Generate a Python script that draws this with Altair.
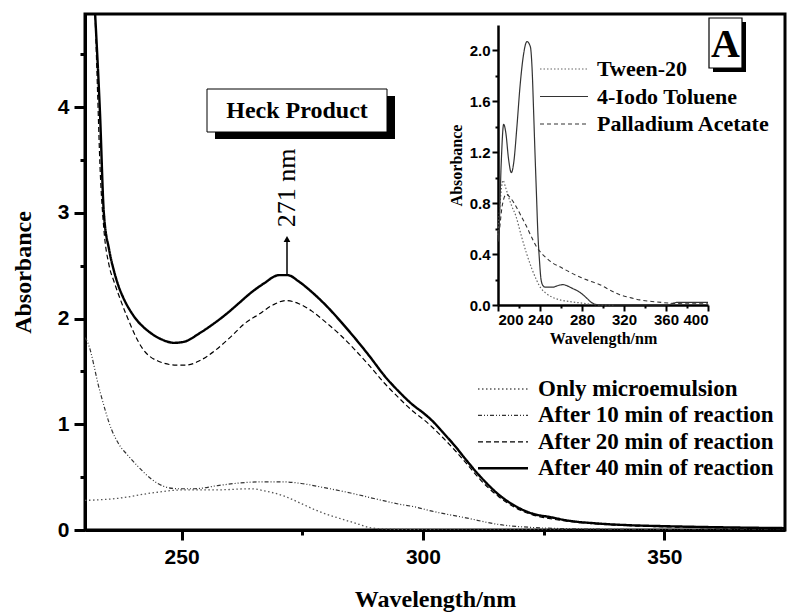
import altair as alt
import pandas as pd

# ---------------- Main spectra (wavelength nm, absorbance) ----------------
micro_wl = [230, 236.9, 243.8, 250.7, 257.5, 264.4, 267.2, 271.3, 274.8, 278.2, 282.3, 286.5, 289.2, 292, 300, 315, 330]
micro_ab = [0.28, 0.30, 0.35, 0.38, 0.38, 0.39, 0.37, 0.32, 0.25, 0.18, 0.116, 0.058, 0.02, 0.01, 0.003, 0.0, 0.0]

min10_wl = [230, 230.5, 233.1, 235.5, 236.9, 239, 241, 243.8, 246.5, 249.3, 252.7, 257.5, 261, 266.5, 271.3, 274.8,
            279.6, 285, 290.6, 295, 298.2, 301.9, 308.9, 315.7, 322.6, 330, 340, 350, 375]
min10_ab = [1.82, 1.78, 1.31, 0.95, 0.82, 0.70, 0.60, 0.48, 0.41, 0.39, 0.39, 0.42, 0.44, 0.455, 0.455, 0.44,
            0.40, 0.35, 0.29, 0.245, 0.22, 0.178, 0.115, 0.052, 0.024, 0.012, 0.006, 0.003, 0.0]

min20_wl = [231.6, 232.1, 232.6, 233.1, 233.9, 235, 236, 237, 238.6, 242, 245, 248.9, 251, 253.7, 257, 260.5, 263,
            266, 269, 271.6, 274.3, 277, 280, 283, 286, 289, 292, 295, 298, 300, 302, 304, 306.9, 309, 312, 315.7,
            319.2, 322.6, 326, 329.5, 336.4, 343, 350, 360, 375]
min20_ab = [5.4, 4.85, 4.15, 3.45, 2.85, 2.5, 2.35, 2.22, 2.03, 1.71, 1.6, 1.56, 1.56, 1.6, 1.7, 1.84, 1.95,
            2.04, 2.13, 2.17, 2.14, 2.07, 1.96, 1.84, 1.70, 1.55, 1.39, 1.25, 1.12, 1.05, 0.97, 0.88, 0.74, 0.63,
            0.47, 0.315, 0.21, 0.145, 0.11, 0.085, 0.055, 0.04, 0.03, 0.022, 0.015]

min40_wl = [231.5, 232.1, 233.1, 233.9, 235, 236, 237, 237.9, 240, 243.4, 246, 248.5, 250.5, 253.7, 256, 259.2, 262,
            264, 267, 270.2, 272, 274.3, 277, 280, 283, 286, 289, 292, 295, 298, 300, 302, 304, 306.9, 309,
            312, 315.7, 319.2, 322.6, 326.6, 329.5, 336.4, 343, 350.2, 360, 370.8, 375]
min40_ab = [5.4, 4.88, 3.95, 3.0, 2.65, 2.45, 2.3, 2.2, 2.03, 1.87, 1.8, 1.77, 1.78, 1.86, 1.93, 2.04, 2.15,
            2.23, 2.33, 2.41, 2.41, 2.35, 2.25, 2.12, 1.97, 1.81, 1.64, 1.46, 1.31, 1.18, 1.11, 1.03, 0.93, 0.78, 0.66,
            0.50, 0.335, 0.225, 0.156, 0.12, 0.093, 0.061, 0.045, 0.036, 0.027, 0.02, 0.018]

# ---------------- Inset spectra ----------------
tween_wl = [200, 202, 204.8, 207, 210, 213, 217, 222, 227, 232, 236.5, 241, 246, 252, 259, 270, 280, 290, 300, 310]
tween_ab = [0.55, 0.8, 0.98, 0.93, 0.85, 0.78, 0.70, 0.55, 0.41, 0.29, 0.2, 0.13, 0.09, 0.06, 0.04, 0.025, 0.015,
            0.005, 0.0, 0.0]

iodo_wl = [200, 201, 203, 205.4, 207.5, 210, 212.7, 215, 218, 221, 224, 227.6, 230.8, 232.5, 234, 235, 236.5, 238,
           239.5, 241, 243, 245, 252, 258, 262, 266, 271, 276, 281, 285, 289, 293, 300, 360, 366, 370, 400]
iodo_ab = [0.5, 0.59, 1.1, 1.42, 1.35, 1.15, 1.04, 1.12, 1.4, 1.72, 1.95, 2.07, 2.03, 1.85, 1.5, 1.25, 0.9, 0.56,
           0.35, 0.2, 0.15, 0.14, 0.14, 0.155, 0.16, 0.15, 0.13, 0.11, 0.08, 0.05, 0.02, 0.005, 0.0, 0.0, 0.01,
           0.02, 0.02]

pd_wl = [200, 201, 204, 208, 212, 217.5, 222, 227, 231, 236.5, 241, 246, 252, 259, 268, 278, 287, 297, 306, 316,
         325, 335, 350, 367, 380, 400]
pd_ab = [0.5, 0.56, 0.78, 0.87, 0.84, 0.77, 0.70, 0.62, 0.55, 0.46, 0.41, 0.37, 0.33, 0.30, 0.26, 0.22, 0.19,
         0.16, 0.12, 0.08, 0.06, 0.04, 0.025, 0.013, 0.01, 0.01]

main_names = ["Only microemulsion", "After 10 min of reaction", "After 20 min of reaction",
              "After 40 min of reaction"]
main_wls = [micro_wl, min10_wl, min20_wl, min40_wl]
main_abs = [micro_ab, min10_ab, min20_ab, min40_ab]
main_colors = ["#555555", "#333333", "#000000", "#000000"]
main_dashes = [[1.5, 2.5], [4, 2, 1, 2, 1, 2], [5, 3], [1, 0]]
main_widths = [1.3, 1.2, 1.2, 2.4]

inset_names = ["Tween-20", "4-Iodo Toluene", "Palladium Acetate"]
inset_wls = [tween_wl, iodo_wl, pd_wl]
inset_abs = [tween_ab, iodo_ab, pd_ab]
inset_colors = ["#666666", "#333333", "#333333"]
inset_dashes = [[1.5, 2], [1, 0], [4, 3]]
inset_widths = [1.2, 1.2, 1.1]

main_x_ticks = [250, 275, 300, 325, 350]
main_y_ticks = [0, 0.5, 1, 1.5, 2, 2.5, 3, 3.5, 4, 4.5]
inset_x_ticks = [200, 220, 240, 260, 280, 300, 320, 340, 360, 380, 400]
inset_y_ticks = [0, 0.2, 0.4, 0.6, 0.8, 1.0, 1.2, 1.4, 1.6, 1.8, 2.0]

SERIF = "Liberation Serif"
SANS = "Liberation Sans"

W, H = 700, 516

main_x_axis = alt.Axis(
    values=main_x_ticks, labelExpr="datum.value % 50 ? '' : datum.label",
    tickSize={"condition": {"test": "datum.value % 50 !== 0", "value": 5}, "value": 10},
    tickWidth=3, domainWidth=3, labelFont=SANS, labelFontWeight="bold", labelFontSize=21,
    labelPadding=6, title="Wavelength/nm", titleFont=SERIF, titleFontWeight="bold",
    titleFontSize=24, titlePadding=20, grid=False, orient="bottom", labelOverlap=False)
main_y_axis = alt.Axis(
    values=main_y_ticks, labelExpr="datum.value % 1 ? '' : format(datum.value, 'd')",
    tickSize={"condition": {"test": "datum.value % 1 !== 0", "value": 5}, "value": 11},
    tickWidth=3, domainWidth=3, labelFont=SANS, labelFontWeight="bold", labelFontSize=21,
    labelPadding=5, title="Absorbance", titleFont=SERIF, titleFontWeight="bold",
    titleFontSize=24, titlePadding=22, grid=False, orient="left", labelOverlap=False)

main_xs = alt.Scale(domain=[230, 375], nice=False, zero=False)
main_ys = alt.Scale(domain=[0, 4.88], nice=False, zero=True)

dummy = pd.DataFrame({"k": [0]})

main_layers = []
for name, wl, ab, c, d, w in zip(main_names, main_wls, main_abs, main_colors, main_dashes, main_widths):
    df = pd.DataFrame({"wavelength": wl, "absorbance": ab, "series": name})
    main_layers.append(
        alt.Chart(df).mark_line(interpolate="monotone", clip=True, color=c, strokeDash=d, strokeWidth=w)
        .encode(x=alt.X("wavelength:Q", scale=main_xs, axis=main_x_axis),
                y=alt.Y("absorbance:Q", scale=main_ys, axis=main_y_axis))
    )

# Heck product annotation
heck_shadow = alt.Chart(dummy).mark_rect(color="black").encode(
    x=alt.value(130), x2=alt.value(310), y=alt.value(82), y2=alt.value(125))
heck_box = alt.Chart(dummy).mark_rect(fill="white", stroke="black", strokeWidth=1).encode(
    x=alt.value(122), x2=alt.value(302), y=alt.value(75), y2=alt.value(118))
heck_text = alt.Chart(dummy).mark_text(text="Heck Product", font=SERIF, fontWeight="bold", fontSize=24,
                                       align="center", baseline="middle").encode(
    x=alt.value(212), y=alt.value(97))
arrow_line = alt.Chart(dummy).mark_rule(color="black", strokeWidth=1.5).encode(
    x=alt.value(202), y=alt.value(260), y2=alt.value(226))
arrow_head = alt.Chart(dummy).mark_point(shape="triangle-up", filled=True, color="black", size=45,
                                         opacity=1).encode(x=alt.value(202), y=alt.value(225))
nm_text = alt.Chart(dummy).mark_text(text="271 nm", font=SERIF, fontSize=26, angle=270,
                                     align="center", baseline="middle").encode(
    x=alt.value(202), y=alt.value(174))

# "A" label box
a_shadow = alt.Chart(dummy).mark_rect(color="black").encode(
    x=alt.value(628), x2=alt.value(661), y=alt.value(8), y2=alt.value(58))
a_box = alt.Chart(dummy).mark_rect(fill="white", stroke="black", strokeWidth=1.2).encode(
    x=alt.value(624), x2=alt.value(657), y=alt.value(4), y2=alt.value(54))
a_text = alt.Chart(dummy).mark_text(text="A", font=SERIF, fontWeight="bold", fontSize=40,
                                    align="center", baseline="middle").encode(
    x=alt.value(640.5), y=alt.value(31))

# Main legend
legend_layers = []
for i, (name, c, d, w) in enumerate(zip(main_names, main_colors, main_dashes, main_widths)):
    yy = 375 + i * 26.4
    legend_layers.append(alt.Chart(dummy).mark_rule(color=c, strokeDash=d, strokeWidth=max(w, 1.2)).encode(
        x=alt.value(393), x2=alt.value(443), y=alt.value(yy)))
    legend_layers.append(alt.Chart(dummy).mark_text(text=name, font=SERIF, fontWeight="bold", fontSize=23,
                                                    align="left", baseline="middle").encode(
        x=alt.value(453), y=alt.value(yy)))

main = alt.layer(*main_layers, heck_shadow, heck_box, heck_text, arrow_line, arrow_head, nm_text,
                 a_shadow, a_box, a_text, *legend_layers)

# ---------------- Inset ----------------
inset_x_axis = alt.Axis(
    orient="bottom", offset=-(H - 291), values=inset_x_ticks,
    labelExpr="datum.value % 40 ? '' : datum.label",
    tickSize={"condition": {"test": "datum.value % 40 !== 0", "value": 3}, "value": 6},
    tickWidth=2, domainWidth=2.5, labelFont=SANS, labelFontWeight="bold", labelFontSize=15,
    labelPadding=1, title="Wavelength/nm", titleFont=SERIF, titleFontWeight="bold", titleFontSize=16,
    titlePadding=3, grid=False, labelOverlap=False)
inset_y_axis = alt.Axis(
    orient="left", offset=-413, values=inset_y_ticks,
    labelExpr="round(datum.value * 10) % 4 ? '' : format(datum.value, '.1f')",
    tickSize={"condition": {"test": "round(datum.value * 10) % 4 !== 0", "value": 3}, "value": 6},
    tickWidth=2, domainWidth=2.5, labelFont=SANS, labelFontWeight="bold", labelFontSize=15,
    labelPadding=2, title="Absorbance", titleFont=SERIF, titleFontWeight="bold", titleFontSize=16,
    titlePadding=5, grid=False, labelOverlap=False)

inset_xs = alt.Scale(domain=[200, 400], range=[413, 623], nice=False, zero=False)
inset_ys = alt.Scale(domain=[0, 2.2], range=[291, 11], nice=False, zero=True)

inset_layers = []
for name, wl, ab, c, d, w in zip(inset_names, inset_wls, inset_abs, inset_colors, inset_dashes, inset_widths):
    df = pd.DataFrame({"wl_inset": wl, "ab_inset": ab, "series": name})
    inset_layers.append(
        alt.Chart(df).mark_line(interpolate="monotone", color=c, strokeDash=d, strokeWidth=w)
        .encode(x=alt.X("wl_inset:Q", scale=inset_xs, axis=inset_x_axis),
                y=alt.Y("ab_inset:Q", scale=inset_ys, axis=inset_y_axis))
    )

inset_legend = []
for i, (name, c, d, w) in enumerate(zip(inset_names, inset_colors, inset_dashes, inset_widths)):
    yy = 55 + i * 27.5
    inset_legend.append(alt.Chart(dummy).mark_rule(color=c, strokeDash=d, strokeWidth=w).encode(
        x=alt.value(455), x2=alt.value(503), y=alt.value(yy)))
    inset_legend.append(alt.Chart(dummy).mark_text(text=name, font=SERIF, fontWeight="bold", fontSize=22,
                                                   align="left", baseline="middle").encode(
        x=alt.value(512), y=alt.value(yy)))

inset = alt.layer(*inset_layers, *inset_legend)

chart = (
    alt.layer(main, inset)
    .resolve_scale(x="independent", y="independent")
    .properties(width=W, height=H, padding={"left": 85, "top": 14, "right": 2, "bottom": 84},
                autosize=alt.AutoSizeParams(type="none"), background="white")
    .configure_view(stroke="black", strokeWidth=3)
    .configure_axis(domainColor="black", tickColor="black", labelColor="black", titleColor="black")
)

chart.save("out.html", embed_options={"renderer": "svg", "actions": False})
